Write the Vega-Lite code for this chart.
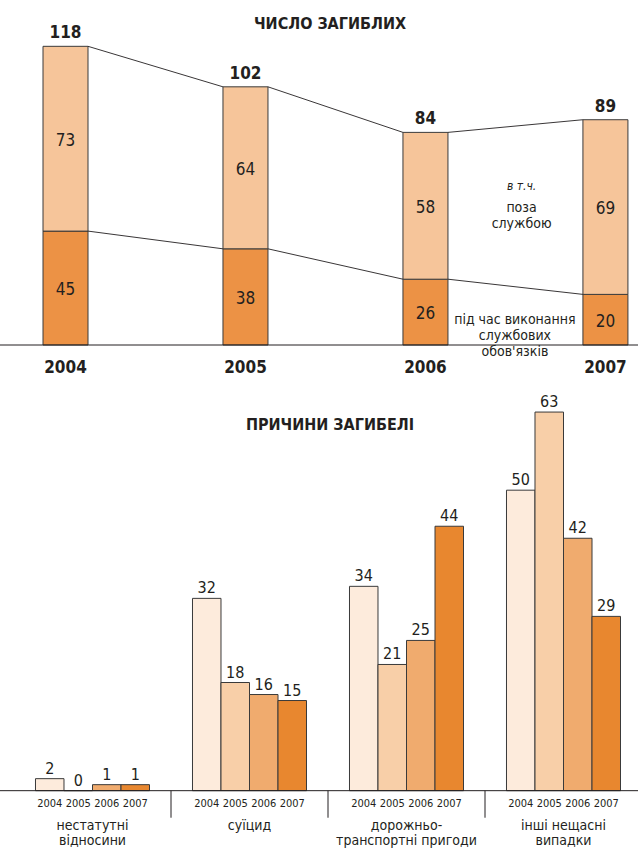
{
  "$schema": "https://vega.github.io/schema/vega-lite/v6.json",
  "width": 638,
  "height": 850,
  "autosize": {"type": "none"},
  "padding": 0,
  "background": "white",
  "config": {
    "view": {"stroke": null},
    "axis": {"disable": true},
    "legend": {"disable": true},
    "text": {"font": "Liberation Sans Narrow, DejaVu Sans Condensed, Roboto, sans-serif", "color": "#231f20"}
  },
  "datasets": {
    "deaths": [
      {"year": 2004, "type": "під час виконання службових обов'язків", "value": 45},
      {"year": 2004, "type": "поза службою", "value": 73},
      {"year": 2005, "type": "під час виконання службових обов'язків", "value": 38},
      {"year": 2005, "type": "поза службою", "value": 64},
      {"year": 2006, "type": "під час виконання службових обов'язків", "value": 26},
      {"year": 2006, "type": "поза службою", "value": 58},
      {"year": 2007, "type": "під час виконання службових обов'язків", "value": 20},
      {"year": 2007, "type": "поза службою", "value": 69}
    ],
    "causes": [
      {"cause": "нестатутні\nвідносини", "year": 2004, "value": 2},
      {"cause": "нестатутні\nвідносини", "year": 2005, "value": 0},
      {"cause": "нестатутні\nвідносини", "year": 2006, "value": 1},
      {"cause": "нестатутні\nвідносини", "year": 2007, "value": 1},
      {"cause": "суїцид", "year": 2004, "value": 32},
      {"cause": "суїцид", "year": 2005, "value": 18},
      {"cause": "суїцид", "year": 2006, "value": 16},
      {"cause": "суїцид", "year": 2007, "value": 15},
      {"cause": "дорожньо-\nтранспортні пригоди", "year": 2004, "value": 34},
      {"cause": "дорожньо-\nтранспортні пригоди", "year": 2005, "value": 21},
      {"cause": "дорожньо-\nтранспортні пригоди", "year": 2006, "value": 25},
      {"cause": "дорожньо-\nтранспортні пригоди", "year": 2007, "value": 44},
      {"cause": "інші нещасні\nвипадки", "year": 2004, "value": 50},
      {"cause": "інші нещасні\nвипадки", "year": 2005, "value": 63},
      {"cause": "інші нещасні\nвипадки", "year": 2006, "value": 42},
      {"cause": "інші нещасні\nвипадки", "year": 2007, "value": 29}
    ]
  },
  "layer": [
    {
      "data": {"name": "deaths"},
      "transform": [
        {"stack": "value", "groupby": ["year"], "sort": [{"field": "type", "order": "descending"}], "as": ["v0", "v1"]}
      ],
      "layer": [
        {
          "mark": {"type": "bar", "width": 45, "stroke": "#3a3a3a", "strokeWidth": 1},
          "encoding": {
            "x": {"field": "year", "type": "quantitative", "scale": {"domain": [2003.636, 2007.181], "nice": false, "zero": false, "padding": 0}},
            "y": {"field": "v1", "type": "quantitative", "scale": {"domain": [-199.5, 136.3], "nice": false, "zero": false, "padding": 0}},
            "y2": {"field": "v0"},
            "color": {
              "field": "type", "type": "nominal",
              "scale": {"domain": ["під час виконання службових обов'язків", "поза службою"], "range": ["#EC9245", "#F6C59A"]}
            }
          }
        },
        {
          "transform": [
            {"window": [{"op": "lead", "field": "year", "as": "ny"}, {"op": "lead", "field": "v1", "as": "nv1"}], "groupby": ["type"], "sort": [{"field": "year"}]},
            {"filter": "datum.ny != null"}
          ],
          "mark": {"type": "rule", "color": "#231f20", "strokeWidth": 0.9, "xOffset": 22.5, "x2Offset": -22.5},
          "encoding": {
            "x": {"field": "year", "type": "quantitative"},
            "x2": {"field": "ny"},
            "y": {"field": "v1", "type": "quantitative"},
            "y2": {"field": "nv1"}
          }
        },
        {
          "transform": [{"filter": {"field": "type", "equal": "поза службою"}}],
          "mark": {"type": "text", "fontSize": 17, "fontWeight": "bold", "baseline": "bottom", "dy": -4},
          "encoding": {
            "x": {"field": "year", "type": "quantitative"},
            "y": {"field": "v1", "type": "quantitative"},
            "text": {"field": "v1", "type": "quantitative"}
          }
        },
        {
          "transform": [
            {"fold": ["v0", "v1"], "as": ["k", "pos"]},
            {"aggregate": [{"op": "mean", "field": "pos", "as": "mid"}, {"op": "max", "field": "value", "as": "label"}], "groupby": ["year", "type"]}
          ],
          "mark": {"type": "text", "fontSize": 17, "baseline": "middle", "dy": 2},
          "encoding": {
            "x": {"field": "year", "type": "quantitative"},
            "y": {"field": "mid", "type": "quantitative"},
            "text": {"field": "label", "type": "quantitative"}
          }
        },
        {
          "transform": [{"filter": {"field": "type", "equal": "поза службою"}}],
          "mark": {"type": "text", "fontSize": 17, "fontWeight": "bold", "baseline": "middle", "dy": 23},
          "encoding": {
            "x": {"field": "year", "type": "quantitative"},
            "y": {"datum": 0},
            "text": {"field": "year", "type": "nominal"}
          }
        },
        {
          "transform": [{"aggregate": [{"op": "count", "as": "n"}]}],
          "mark": {"type": "rule", "color": "#231f20", "strokeWidth": 1},
          "encoding": {"y": {"datum": 0}}
        },
        {
          "transform": [{"aggregate": [{"op": "count", "as": "n"}]}],
          "mark": {"type": "text", "fontSize": 16, "fontWeight": "bold", "baseline": "middle", "dx": 11},
          "encoding": {"y": {"datum": 127}, "text": {"value": "ЧИСЛО ЗАГИБЛИХ"}}
        },
        {
          "transform": [{"aggregate": [{"op": "count", "as": "n"}]}],
          "mark": {"type": "text", "fontSize": 12, "fontStyle": "italic", "baseline": "middle"},
          "encoding": {"x": {"datum": 2006.534}, "y": {"datum": 62.8}, "text": {"value": "в т.ч."}}
        },
        {
          "transform": [{"aggregate": [{"op": "count", "as": "n"}]}],
          "mark": {"type": "text", "fontSize": 14, "baseline": "middle", "lineBreak": "\n", "lineHeight": 16},
          "encoding": {"x": {"datum": 2006.534}, "y": {"datum": 54.1}, "text": {"value": "поза\nслужбою"}}
        },
        {
          "transform": [{"aggregate": [{"op": "count", "as": "n"}]}],
          "mark": {"type": "text", "fontSize": 14, "baseline": "middle", "lineBreak": "\n", "lineHeight": 16},
          "encoding": {"x": {"datum": 2006.497}, "y": {"datum": 9.9}, "text": {"value": "під час виконання\nслужбових\nобов'язків"}}
        }
      ]
    },
    {
      "data": {"name": "causes"},
      "layer": [
        {
          "mark": {"type": "bar", "stroke": "#3a3a3a", "strokeWidth": 1},
          "encoding": {
            "x": {
              "field": "cause", "type": "nominal",
              "scale": {"domain": ["нестатутні\nвідносини", "суїцид", "дорожньо-\nтранспортні пригоди", "інші нещасні\nвипадки"], "range": [14, 642], "paddingInner": 0, "paddingOuter": 0}
            },
            "xOffset": {"field": "year", "type": "nominal", "scale": {"paddingInner": 0, "paddingOuter": 0.754}},
            "y": {"field": "value", "type": "quantitative", "scale": {"domain": [-9.87, 131.56], "nice": false, "zero": false, "padding": 0}},
            "color": {"field": "year", "type": "nominal", "scale": {"range": ["#FDEBDC", "#F8CFA8", "#F0AB6E", "#E8872F"]}}
          }
        },
        {
          "mark": {"type": "text", "fontSize": 16, "baseline": "bottom", "dy": -2},
          "encoding": {
            "x": {"field": "cause", "type": "nominal"},
            "xOffset": {"field": "year", "type": "nominal"},
            "y": {"field": "value", "type": "quantitative"},
            "text": {"field": "value", "type": "quantitative"}
          }
        },
        {
          "mark": {"type": "text", "fontSize": 11, "baseline": "top", "dy": 7},
          "encoding": {
            "x": {"field": "cause", "type": "nominal"},
            "xOffset": {"field": "year", "type": "nominal"},
            "y": {"datum": 0},
            "text": {"field": "year", "type": "nominal"}
          }
        },
        {
          "transform": [{"filter": {"field": "year", "equal": 2004}}],
          "mark": {"type": "text", "fontSize": 14, "baseline": "top", "dy": 28, "lineBreak": "\n", "lineHeight": 15},
          "encoding": {
            "x": {"field": "cause", "type": "nominal"},
            "y": {"datum": 0},
            "text": {"field": "cause", "type": "nominal"}
          }
        },
        {
          "transform": [{"filter": {"field": "year", "equal": 2004}}],
          "mark": {"type": "rule", "color": "#231f20", "strokeWidth": 1},
          "encoding": {
            "x": {"field": "cause", "type": "nominal", "bandPosition": 1},
            "y": {"datum": 0},
            "y2": {"datum": -4.5}
          }
        },
        {
          "transform": [{"aggregate": [{"op": "count", "as": "n"}]}],
          "mark": {"type": "rule", "color": "#231f20", "strokeWidth": 1},
          "encoding": {"y": {"datum": 0}}
        },
        {
          "transform": [{"aggregate": [{"op": "count", "as": "n"}]}],
          "mark": {"type": "text", "fontSize": 16, "fontWeight": "bold", "baseline": "middle", "dx": 11},
          "encoding": {"y": {"datum": 60.85}, "text": {"value": "ПРИЧИНИ ЗАГИБЕЛІ"}}
        }
      ]
    }
  ],
  "resolve": {"scale": {"x": "independent", "y": "independent", "color": "independent", "xOffset": "independent"}}
}
